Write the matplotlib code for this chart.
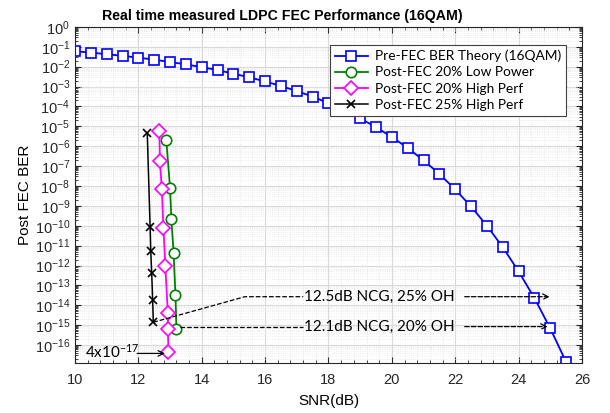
import matplotlib
matplotlib.use('Agg')
import matplotlib.pyplot as plt
import numpy as np
from matplotlib.ticker import MultipleLocator, LogLocator, NullFormatter

plt.rcParams['font.family'] = ['Liberation Sans', 'DejaVu Sans']
plt.rcParams['mathtext.default'] = 'regular'

# pre-FEC theory curve (16QAM)
snr_pre = [10, 10.5, 11, 11.5, 12, 12.5, 13, 13.5, 14, 14.5, 15, 15.5, 16, 16.5,
           17, 17.5, 18, 18.5, 19, 19.5, 20, 20.5, 21, 21.5, 22, 22.5, 23, 23.5,
           24, 24.5, 25, 25.5]
ber_pre = [5.9e-2, 5.1e-2, 4.2e-2, 3.5e-2, 2.8e-2, 2.25e-2, 1.7e-2, 1.3e-2, 9.4e-3,
           6.7e-3, 4.4e-3, 2.9e-3, 1.8e-3, 1.06e-3, 5.9e-4, 3.1e-4, 1.45e-4, 6.2e-5,
           2.5e-5, 9.0e-6, 2.9e-6, 8.1e-7, 1.95e-7, 4.0e-8, 6.7e-9, 9.3e-10, 1.0e-10,
           8.3e-12, 5.1e-13, 2.3e-14, 6.9e-16, 1.4e-17]

# post-FEC measured points
snr_lp20 = [12.88, 13.0, 13.04, 13.11, 13.17, 13.2]
ber_lp20 = [2.1e-6, 7.7e-9, 2.3e-10, 4.5e-12, 3.3e-14, 6.8e-16]

snr_hp20 = [12.66, 12.68, 12.74, 12.79, 12.85, 12.93, 12.93, 12.95]
ber_hp20 = [5.5e-6, 1.7e-7, 6.9e-9, 7.9e-11, 1.0e-12, 3.9e-15, 6.8e-16, 4.5e-17]

snr_hp25 = [12.28, 12.37, 12.39, 12.42, 12.45, 12.47]
ber_hp25 = [4.5e-6, 8.5e-11, 5.2e-12, 4.1e-13, 1.9e-14, 1.4e-15]

# annotation anchors
ncg25_path_x = [12.47, 15.36, 17.2]
ncg25_path_y = [1.4e-15, 2.7e-14, 2.7e-14]
ncg20_path_x = [13.3, 17.2]
ncg20_path_y = [8.5e-16, 8.5e-16]

fig = plt.figure(figsize=(6.1, 4.13), dpi=100)
ax = fig.add_axes([0.123, 0.121, 0.831, 0.814])

ax.semilogy(snr_pre, ber_pre, '-s', color='#0000ff', mfc='white', mec='#0000ff',
            markersize=6.5, linewidth=1.3, mew=1.2, label='Pre-FEC BER Theory (16QAM)')
ax.semilogy(snr_lp20, ber_lp20, '-o', color='#008000', mfc='white', mec='#008000',
            markersize=7.5, linewidth=1.3, mew=1.2, label='Post-FEC 20% Low Power')
ax.semilogy(snr_hp20, ber_hp20, '-D', color='#ff00ff', mfc='white', mec='#ff00ff',
            markersize=7, linewidth=1.3, mew=1.2, label='Post-FEC 20% High Perf')
ax.semilogy(snr_hp25, ber_hp25, '-x', color='black', markersize=6,
            linewidth=1.1, mew=1.2, label='Post-FEC 25% High Perf')

# NCG annotations
ax.plot(ncg25_path_x, ncg25_path_y, 'k--', linewidth=0.9)
ax.text(19.62, 2.7e-14, '12.5dB NCG, 25% OH', ha='center', va='center',
        fontsize=11, family=['Lato', 'DejaVu Sans'])
ax.annotate('', xy=(24.98, 2.7e-14), xytext=(22.3, 2.7e-14),
            arrowprops=dict(arrowstyle='->', linestyle='--', linewidth=0.9,
                            color='black', shrinkA=0, shrinkB=0))

ax.plot(ncg20_path_x, ncg20_path_y, 'k--', linewidth=0.9)
ax.text(19.62, 8.5e-16, '12.1dB NCG, 20% OH', ha='center', va='center',
        fontsize=11, family=['Lato', 'DejaVu Sans'])
ax.annotate('', xy=(24.92, 8.5e-16), xytext=(22.3, 8.5e-16),
            arrowprops=dict(arrowstyle='->', linestyle='--', linewidth=0.9,
                            color='black', shrinkA=0, shrinkB=0))

ax.text(10.3, 4.7e-17, r'4x10$^{-17}$', ha='left', va='center', fontsize=11,
        family=['Lato', 'DejaVu Sans'])
ax.annotate('', xy=(12.84, 3.8e-17), xytext=(11.96, 3.8e-17),
            arrowprops=dict(arrowstyle='->', linewidth=0.9, color='black',
                            shrinkA=0, shrinkB=0))

ax.set_xlim(10, 26)
ax.set_ylim(1.25e-17, 1)
ax.set_xticks(np.arange(10, 27, 2))
ax.xaxis.set_minor_locator(MultipleLocator(0.4))
ax.set_yticks([10.0 ** -k for k in range(0, 17)])
ax.yaxis.set_minor_locator(LogLocator(base=10, subs=np.arange(2, 10), numticks=40))
ax.yaxis.set_minor_formatter(NullFormatter())

ax.grid(which='major', color='#d9d9d9', linewidth=0.8)
ax.grid(which='minor', color='#e6e6e6', linewidth=0.6, linestyle=':')
ax.set_axisbelow(True)
ax.tick_params(which='both', direction='in', top=True, right=True, labelsize=10.5,
               colors='#262626')
ax.tick_params(which='major', length=4)
ax.tick_params(axis='x', which='major', pad=7)
ax.tick_params(which='minor', length=2)
for s in ax.spines.values():
    s.set_color('#262626')
    s.set_linewidth(0.8)

ax.set_xlabel('SNR(dB)', fontsize=11, labelpad=5)
ax.set_ylabel('Post FEC BER', fontsize=11, labelpad=2)
ax.set_title('Real time measured LDPC FEC Performance (16QAM)', fontsize=10.2,
             fontweight='bold', pad=5, x=0.408)

leg = ax.legend(loc='upper left', bbox_to_anchor=(0.503, 0.946),
                fancybox=False, framealpha=1, edgecolor='#404040',
                handlelength=2.4, handletextpad=0.5, borderaxespad=0, borderpad=0.35,
                labelspacing=0.3, prop={'family': ['Lato', 'DejaVu Sans'], 'size': 9.9})
leg.get_frame().set_linewidth(0.8)

plt.savefig('out.png', dpi=100)
